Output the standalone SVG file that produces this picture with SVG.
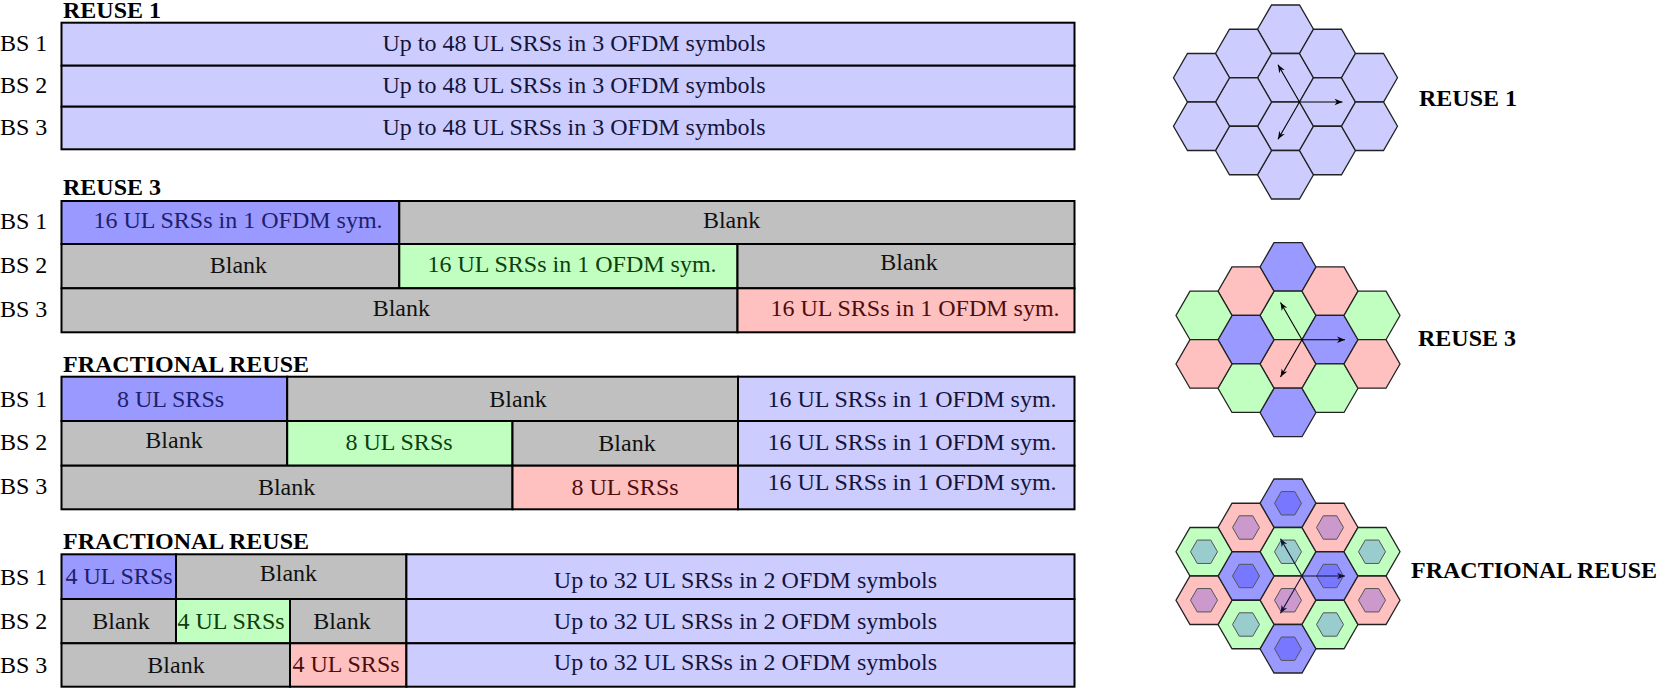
<svg xmlns="http://www.w3.org/2000/svg" xmlns:xlink="http://www.w3.org/1999/xlink" width="1661" height="690" viewBox="0 0 1661 690">
<style>
.cell{stroke:#000;stroke-width:2}
.lav{fill:#CCCCFF}.blu{fill:#9999FF}.grn{fill:#C0FFC0}.pnk{fill:#FFC0C0}.gry{fill:#C0C0C0}
text{font-family:"Liberation Serif","Times New Roman",serif;font-size:24px}
.t{text-anchor:middle}
.ttl{font-weight:bold;fill:#000}
.lbl{fill:#000}
.tb{fill:#20206a}.tg{fill:#0d400d}.tp{fill:#4d0d0d}.tl{fill:#14143a}.tk{fill:#111}
.hex{stroke:#222;stroke-width:1.3}
.in{stroke:#555;stroke-width:1}
.hb{fill:#9999FF}.hg{fill:#C0FFC0}.hp{fill:#FFC0C0}.hl{fill:#CCCCFF}
.ib{fill:#7777FF}.ig{fill:#99CCCC}.ip{fill:#CC99CC}
.arr{stroke:#000;stroke-width:1.1;fill:none;marker-end:url(#ah)}
.arr2{stroke:#10103a;stroke-width:1.1;fill:none;marker-end:url(#ah2)}
</style>
<defs>
<polygon id="hx" points="28,0 14,24.25 -14,24.25 -28,0 -14,-24.25 14,-24.25"/>
<polygon id="hi" points="13.5,0 6.75,11.69 -6.75,11.69 -13.5,0 -6.75,-11.69 6.75,-11.69"/>
<marker id="ah" viewBox="0 0 10 10" refX="10" refY="5" markerWidth="10" markerHeight="8" markerUnits="userSpaceOnUse" orient="auto"><path d="M0,1 L10,5 L0,9 L3,5 z" fill="#000"/></marker>
<marker id="ah2" viewBox="0 0 10 10" refX="10" refY="5" markerWidth="10" markerHeight="8" markerUnits="userSpaceOnUse" orient="auto"><path d="M0,1 L10,5 L0,9 L3,5 z" fill="#10103a"/></marker>
</defs>

<!-- REUSE 1 -->
<g id="reuse1">
<text class="ttl" x="63" y="18">REUSE 1</text>
<g id="r1-bs1"><text class="lbl" x="0" y="51">BS 1</text><rect class="cell lav" x="61.5" y="22.7" width="1013" height="43"/><text class="t tl" x="574" y="51">Up to 48 UL SRSs in 3 OFDM symbols</text></g>
<g id="r1-bs2"><text class="lbl" x="0" y="93">BS 2</text><rect class="cell lav" x="61.5" y="65.7" width="1013" height="41"/><text class="t tl" x="574" y="93">Up to 48 UL SRSs in 3 OFDM symbols</text></g>
<g id="r1-bs3"><text class="lbl" x="0" y="135">BS 3</text><rect class="cell lav" x="61.5" y="106.7" width="1013" height="42.6"/><text class="t tl" x="574" y="135">Up to 48 UL SRSs in 3 OFDM symbols</text></g>
</g>

<!-- REUSE 3 -->
<g id="reuse3">
<text class="ttl" x="63" y="195">REUSE 3</text>
<g id="r3-bs1"><text class="lbl" x="0" y="229">BS 1</text>
<rect class="cell blu" x="61.5" y="201" width="337.8" height="43"/><text class="t tb" x="238" y="228">16 UL SRSs in 1 OFDM sym.</text>
<rect class="cell gry" x="399.3" y="201" width="675.2" height="43"/><text class="t tk" x="731.6" y="228">Blank</text></g>
<g id="r3-bs2"><text class="lbl" x="0" y="273">BS 2</text>
<rect class="cell gry" x="61.5" y="244" width="337.8" height="44.3"/><text class="t tk" x="238.4" y="273">Blank</text>
<rect class="cell grn" x="399.3" y="244" width="338.2" height="44.3"/><text class="t tg" x="572" y="272">16 UL SRSs in 1 OFDM sym.</text>
<rect class="cell gry" x="737.5" y="244" width="337" height="44.3"/><text class="t tk" x="909" y="270">Blank</text></g>
<g id="r3-bs3"><text class="lbl" x="0" y="317">BS 3</text>
<rect class="cell gry" x="61.5" y="288.3" width="676" height="44"/><text class="t tk" x="401.3" y="316">Blank</text>
<rect class="cell pnk" x="737.5" y="288.3" width="337" height="44"/><text class="t tp" x="915" y="316">16 UL SRSs in 1 OFDM sym.</text></g>
</g>

<!-- FRACTIONAL REUSE (A) -->
<g id="frac1">
<text class="ttl" x="63" y="372">FRACTIONAL REUSE</text>
<g id="f1-bs1"><text class="lbl" x="0" y="407">BS 1</text>
<rect class="cell blu" x="61.5" y="376.7" width="225.7" height="44.3"/><text class="t tb" x="170.5" y="407">8 UL SRSs</text>
<rect class="cell gry" x="287.2" y="376.7" width="450.8" height="44.3"/><text class="t tk" x="518" y="407">Blank</text>
<rect class="cell lav" x="738" y="376.7" width="336.5" height="44.3"/><text class="t tl" x="912" y="407">16 UL SRSs in 1 OFDM sym.</text></g>
<g id="f1-bs2"><text class="lbl" x="0" y="450">BS 2</text>
<rect class="cell gry" x="61.5" y="421" width="225.7" height="44.7"/><text class="t tk" x="174" y="448">Blank</text>
<rect class="cell grn" x="287.2" y="421" width="225.3" height="44.7"/><text class="t tg" x="399" y="450">8 UL SRSs</text>
<rect class="cell gry" x="512.5" y="421" width="225.5" height="44.7"/><text class="t tk" x="627" y="451">Blank</text>
<rect class="cell lav" x="738" y="421" width="336.5" height="44.7"/><text class="t tl" x="912" y="450">16 UL SRSs in 1 OFDM sym.</text></g>
<g id="f1-bs3"><text class="lbl" x="0" y="494">BS 3</text>
<rect class="cell gry" x="61.5" y="465.7" width="451" height="43.6"/><text class="t tk" x="286.6" y="495">Blank</text>
<rect class="cell pnk" x="512.5" y="465.7" width="225.5" height="43.6"/><text class="t tp" x="625" y="495">8 UL SRSs</text>
<rect class="cell lav" x="738" y="465.7" width="336.5" height="43.6"/><text class="t tl" x="912" y="490">16 UL SRSs in 1 OFDM sym.</text></g>
</g>

<!-- FRACTIONAL REUSE (B) -->
<g id="frac2">
<text class="ttl" x="63" y="549">FRACTIONAL REUSE</text>
<g id="f2-bs1"><text class="lbl" x="0" y="585">BS 1</text>
<rect class="cell blu" x="61.5" y="554.3" width="114.5" height="44.7"/><text class="t tb" x="119" y="584">4 UL SRSs</text>
<rect class="cell gry" x="176" y="554.3" width="230.4" height="44.7"/><text class="t tk" x="288.4" y="581">Blank</text>
<rect class="cell lav" x="406.4" y="554.3" width="668.1" height="44.7"/><text class="t tl" x="745.4" y="588">Up to 32 UL SRSs in 2 OFDM symbols</text></g>
<g id="f2-bs2"><text class="lbl" x="0" y="629">BS 2</text>
<rect class="cell gry" x="61.5" y="599" width="114.5" height="44.3"/><text class="t tk" x="121" y="629">Blank</text>
<rect class="cell grn" x="176" y="599" width="114" height="44.3"/><text class="t tg" x="231" y="629">4 UL SRSs</text>
<rect class="cell gry" x="290" y="599" width="116.4" height="44.3"/><text class="t tk" x="342" y="629">Blank</text>
<rect class="cell lav" x="406.4" y="599" width="668.1" height="44.3"/><text class="t tl" x="745.4" y="629">Up to 32 UL SRSs in 2 OFDM symbols</text></g>
<g id="f2-bs3"><text class="lbl" x="0" y="673">BS 3</text>
<rect class="cell gry" x="61.5" y="643.3" width="228.5" height="43.4"/><text class="t tk" x="176" y="673">Blank</text>
<rect class="cell pnk" x="290" y="643.3" width="116.4" height="43.4"/><text class="t tp" x="346" y="672">4 UL SRSs</text>
<rect class="cell lav" x="406.4" y="643.3" width="668.1" height="43.4"/><text class="t tl" x="745.4" y="670">Up to 32 UL SRSs in 2 OFDM symbols</text></g>
</g>

<!-- Hex cluster REUSE 1 -->
<g id="cluster-reuse1">
<use xlink:href="#hx" href="#hx" class="hex hl" x="1285.5" y="29.25"/>
<use xlink:href="#hx" href="#hx" class="hex hl" x="1285.5" y="77.75"/>
<use xlink:href="#hx" href="#hx" class="hex hl" x="1285.5" y="126.25"/>
<use xlink:href="#hx" href="#hx" class="hex hl" x="1285.5" y="174.75"/>
<use xlink:href="#hx" href="#hx" class="hex hl" x="1243.5" y="53.5"/>
<use xlink:href="#hx" href="#hx" class="hex hl" x="1243.5" y="102"/>
<use xlink:href="#hx" href="#hx" class="hex hl" x="1243.5" y="150.5"/>
<use xlink:href="#hx" href="#hx" class="hex hl" x="1327.5" y="53.5"/>
<use xlink:href="#hx" href="#hx" class="hex hl" x="1327.5" y="102"/>
<use xlink:href="#hx" href="#hx" class="hex hl" x="1327.5" y="150.5"/>
<use xlink:href="#hx" href="#hx" class="hex hl" x="1201.5" y="77.75"/>
<use xlink:href="#hx" href="#hx" class="hex hl" x="1201.5" y="126.25"/>
<use xlink:href="#hx" href="#hx" class="hex hl" x="1369.5" y="77.75"/>
<use xlink:href="#hx" href="#hx" class="hex hl" x="1369.5" y="126.25"/>
<text class="ttl" x="1419" y="106">REUSE 1</text>
</g>

<!-- Hex cluster REUSE 3 -->
<g id="cluster-reuse3">
<use xlink:href="#hx" href="#hx" class="hex hb" x="1288" y="266.95"/>
<use xlink:href="#hx" href="#hx" class="hex hg" x="1288" y="315.45"/>
<use xlink:href="#hx" href="#hx" class="hex hp" x="1288" y="363.95"/>
<use xlink:href="#hx" href="#hx" class="hex hb" x="1288" y="412.45"/>
<use xlink:href="#hx" href="#hx" class="hex hp" x="1246" y="291.2"/>
<use xlink:href="#hx" href="#hx" class="hex hb" x="1246" y="339.7"/>
<use xlink:href="#hx" href="#hx" class="hex hg" x="1246" y="388.2"/>
<use xlink:href="#hx" href="#hx" class="hex hp" x="1330" y="291.2"/>
<use xlink:href="#hx" href="#hx" class="hex hb" x="1330" y="339.7"/>
<use xlink:href="#hx" href="#hx" class="hex hg" x="1330" y="388.2"/>
<use xlink:href="#hx" href="#hx" class="hex hg" x="1204" y="315.45"/>
<use xlink:href="#hx" href="#hx" class="hex hp" x="1204" y="363.95"/>
<use xlink:href="#hx" href="#hx" class="hex hg" x="1372" y="315.45"/>
<use xlink:href="#hx" href="#hx" class="hex hp" x="1372" y="363.95"/>
<text class="ttl" x="1418" y="346">REUSE 3</text>
</g>

<!-- Hex cluster FRACTIONAL REUSE -->
<g id="cluster-fractional">
<use xlink:href="#hx" href="#hx" class="hex hb" x="1288" y="503.25"/>
<use xlink:href="#hx" href="#hx" class="hex hg" x="1288" y="551.75"/>
<use xlink:href="#hx" href="#hx" class="hex hp" x="1288" y="600.25"/>
<use xlink:href="#hx" href="#hx" class="hex hb" x="1288" y="648.75"/>
<use xlink:href="#hx" href="#hx" class="hex hp" x="1246" y="527.5"/>
<use xlink:href="#hx" href="#hx" class="hex hb" x="1246" y="576"/>
<use xlink:href="#hx" href="#hx" class="hex hg" x="1246" y="624.5"/>
<use xlink:href="#hx" href="#hx" class="hex hp" x="1330" y="527.5"/>
<use xlink:href="#hx" href="#hx" class="hex hb" x="1330" y="576"/>
<use xlink:href="#hx" href="#hx" class="hex hg" x="1330" y="624.5"/>
<use xlink:href="#hx" href="#hx" class="hex hg" x="1204" y="551.75"/>
<use xlink:href="#hx" href="#hx" class="hex hp" x="1204" y="600.25"/>
<use xlink:href="#hx" href="#hx" class="hex hg" x="1372" y="551.75"/>
<use xlink:href="#hx" href="#hx" class="hex hp" x="1372" y="600.25"/>
<use xlink:href="#hi" href="#hi" class="in ib" x="1288" y="503.25"/>
<use xlink:href="#hi" href="#hi" class="in ig" x="1288" y="551.75"/>
<use xlink:href="#hi" href="#hi" class="in ip" x="1288" y="600.25"/>
<use xlink:href="#hi" href="#hi" class="in ib" x="1288" y="648.75"/>
<use xlink:href="#hi" href="#hi" class="in ip" x="1246" y="527.5"/>
<use xlink:href="#hi" href="#hi" class="in ib" x="1246" y="576"/>
<use xlink:href="#hi" href="#hi" class="in ig" x="1246" y="624.5"/>
<use xlink:href="#hi" href="#hi" class="in ip" x="1330" y="527.5"/>
<use xlink:href="#hi" href="#hi" class="in ib" x="1330" y="576"/>
<use xlink:href="#hi" href="#hi" class="in ig" x="1330" y="624.5"/>
<use xlink:href="#hi" href="#hi" class="in ig" x="1204" y="551.75"/>
<use xlink:href="#hi" href="#hi" class="in ip" x="1204" y="600.25"/>
<use xlink:href="#hi" href="#hi" class="in ig" x="1372" y="551.75"/>
<use xlink:href="#hi" href="#hi" class="in ip" x="1372" y="600.25"/>
<text class="ttl" x="1411" y="578">FRACTIONAL REUSE</text>
</g>

<!-- Connectors (reuse-distance arrows) -->
<g id="connectors">
<line class="arr" x1="1299.5" y1="102" x2="1342.5" y2="102"/>
<line class="arr" x1="1299.5" y1="102" x2="1278" y2="64.76"/>
<line class="arr" x1="1299.5" y1="102" x2="1278" y2="139.24"/>
<line class="arr" x1="1302" y1="339.7" x2="1345" y2="339.7"/>
<line class="arr" x1="1302" y1="339.7" x2="1280.5" y2="302.46"/>
<line class="arr" x1="1302" y1="339.7" x2="1280.5" y2="376.94"/>
<line class="arr2" x1="1302" y1="576" x2="1345" y2="576"/>
<line class="arr2" x1="1302" y1="576" x2="1280.5" y2="538.76"/>
<line class="arr2" x1="1302" y1="576" x2="1280.5" y2="613.24"/>
</g>
</svg>
